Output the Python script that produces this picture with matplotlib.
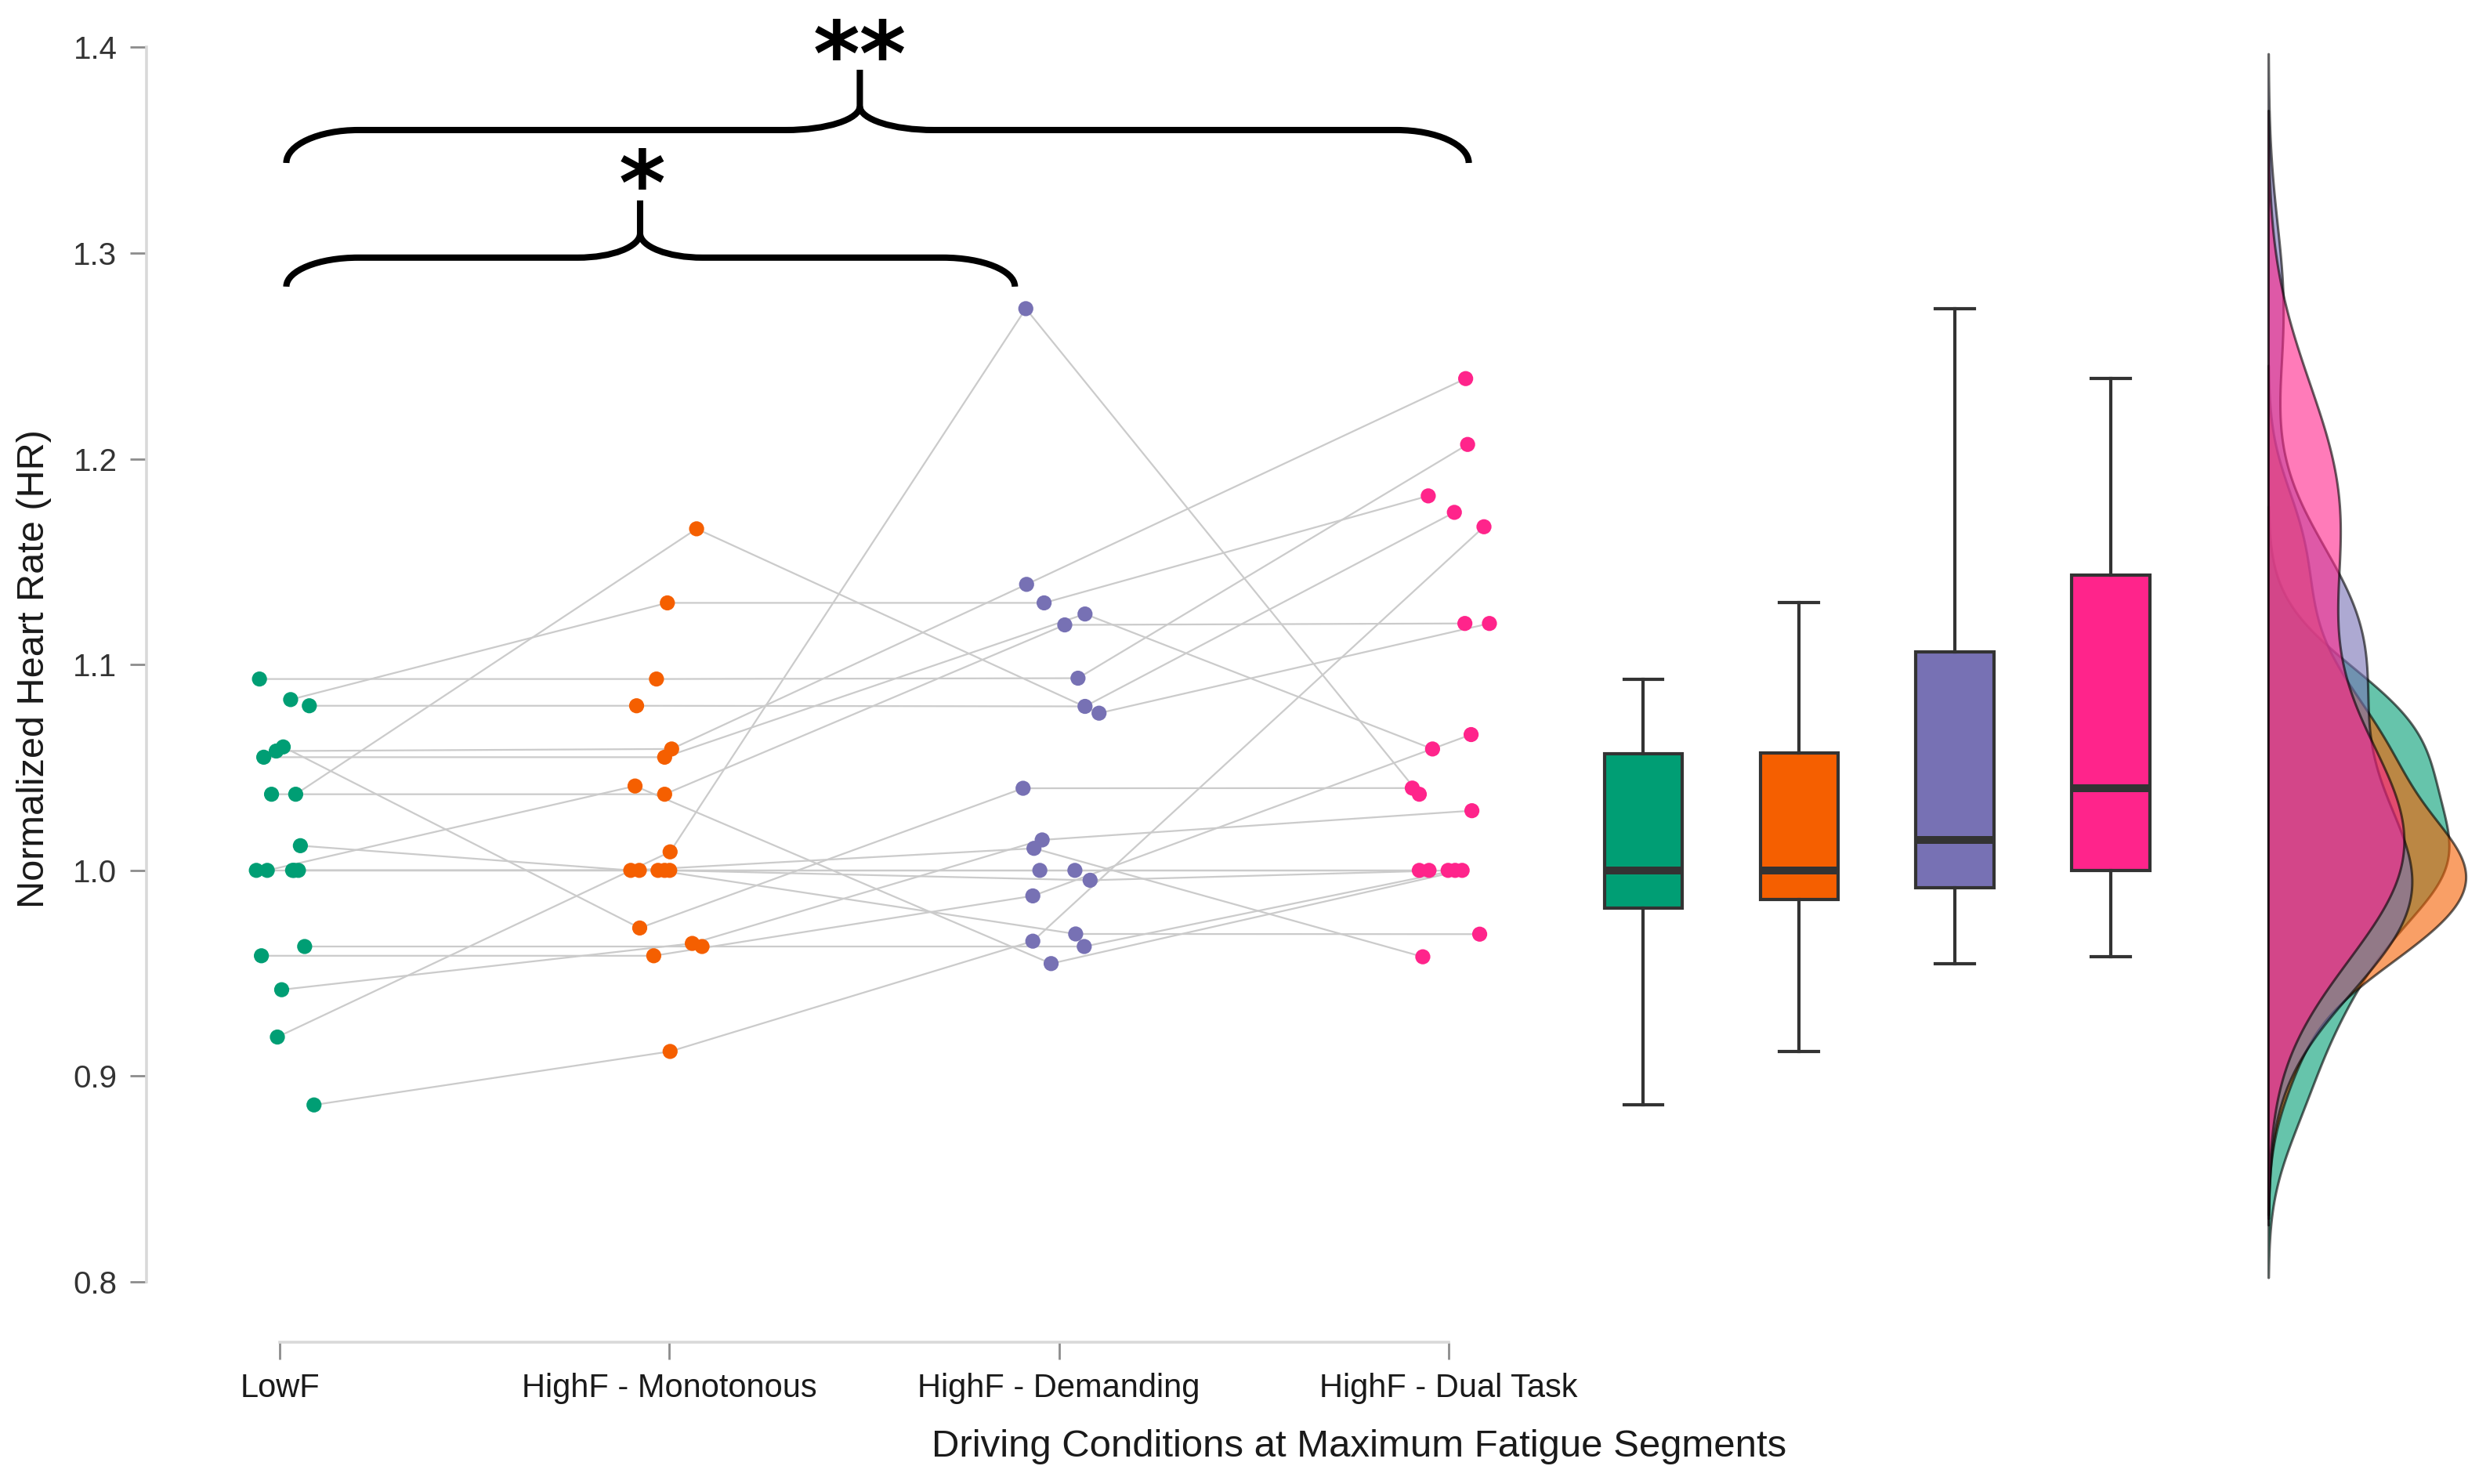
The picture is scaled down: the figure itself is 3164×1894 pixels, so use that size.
import numpy as np
import matplotlib
matplotlib.use("Agg")
import matplotlib.pyplot as plt
from matplotlib.path import Path
from matplotlib.patches import PathPatch
from matplotlib import font_manager

# ---------------- data (one entry per participant, same order in every condition) -------------
conditions = ["LowF", "HighF - Monotonous", "HighF - Demanding", "HighF - Dual Task"]
colors = ["#009E74", "#F55F00", "#7771B4", "#FF248B"]

lowf = [1.093, 1.083, 1.080, 1.060, 1.058, 1.055, 1.037, 1.037, 1.012, 1.000,
        1.000, 1.000, 1.000, 1.000, 0.963, 0.9585, 0.942, 0.919, 0.886]
mono = [1.093, 1.130, 1.080, 0.972, 1.059, 1.055, 1.037, 1.166, 1.000, 1.041,
        1.000, 1.000, 1.000, 1.000, 0.963, 0.9585, 0.9645, 1.009, 0.912]
dem = [1.0934, 1.130, 1.0797, 1.0399, 1.139, 1.1246, 1.1193, 1.0764, 1.0107, 0.9547,
       1.000, 0.9691, 1.000, 0.9952, 0.963, 0.9876, 1.0148, 1.273, 0.9656]
dual = [1.207, 1.182, 1.174, 1.040, 1.239, 1.059, 1.120, 1.120, 0.958, 1.000,
        1.000, 0.969, 1.000, 1.000, 1.000, 1.066, 1.029, 1.037, 1.167]

# horizontal jitter of each point (category units)
jit_lowf = [-0.052, 0.028, 0.076, 0.009, -0.009, -0.041, -0.021, 0.041, 0.053, -0.032,
            -0.060, 0.033, 0.048, 0.037, 0.064, -0.047, 0.005, -0.006, 0.088]
jit_mono = [-0.033, -0.005, -0.084, -0.076, 0.006, -0.012, -0.012, 0.070, -0.099, -0.088,
            -0.077, -0.029, -0.012, 0.001, 0.084, -0.040, 0.059, 0.002, 0.002]
jit_dem = [0.049, -0.038, 0.067, -0.092, -0.083, 0.067, 0.015, 0.103, -0.064, -0.020,
           -0.049, 0.043, 0.041, 0.080, 0.065, -0.067, -0.043, -0.085, -0.067]
jit_dual = [0.049, -0.052, 0.015, -0.093, 0.044, -0.041, 0.042, 0.105, -0.066, 0.035,
            -0.075, 0.080, -0.050, -0.001, 0.017, 0.058, 0.060, -0.075, 0.091]

yticks = [0.8, 0.9, 1.0, 1.1, 1.2, 1.3, 1.4]
ylabel = "Normalized Heart Rate (HR)"
xlabel = "Driving Conditions at Maximum Fatigue Segments"
sig_labels = ["**", "*"]

# ---------------- fonts ----------------
names = {f.name for f in font_manager.fontManager.ttflist}
narrow = "Liberation Sans Narrow" if "Liberation Sans Narrow" in names else "Liberation Sans"
plt.rcParams["font.family"] = ["Liberation Sans", "DejaVu Sans"]

W, H = 3164, 1894
fig = plt.figure(figsize=(W / 200, H / 200), dpi=200)
ax = fig.add_axes([186.7 / W, (H - 1713) / H, 1 - 186.7 / W, 1713 / H])
ax.set_xlim(-0.3425, 5.645)
ax.set_ylim(0.7707, 1.423)

groups = [lowf, mono, dem, dual]
jits = [jit_lowf, jit_mono, jit_dem, jit_dual]

# connecting lines
for i in range(len(lowf)):
    xs = [k + jits[k][i] for k in range(4)]
    ys = [groups[k][i] for k in range(4)]
    ax.plot(xs, ys, color="#CBCBCB", lw=0.8, zorder=1, solid_capstyle="round")

# points
for k in range(4):
    ax.scatter(k + np.array(jits[k]), groups[k],
               s=48, color=colors[k], edgecolors="none", zorder=3)

# boxplots
box_pos = [3.5, 3.9, 4.3, 4.7]
bp = ax.boxplot(groups, positions=box_pos, widths=0.2, patch_artist=True,
                showfliers=False, whis=1.5, capwidths=0.1, manage_ticks=False,
                boxprops=dict(edgecolor="#333333", linewidth=1.5),
                medianprops=dict(color="#333333", linewidth=3.6, solid_capstyle="butt"),
                whiskerprops=dict(color="#333333", linewidth=1.5),
                capprops=dict(color="#333333", linewidth=1.5))
for patch, c in zip(bp["boxes"], colors):
    patch.set_facecolor(c)
for el in bp["boxes"] + bp["medians"] + bp["whiskers"] + bp["caps"]:
    el.set_zorder(4)

# half densities (Gaussian KDE, bw.nrd0, cut = 3)
def nrd0(v):
    v = np.asarray(v)
    sd = v.std(ddof=1)
    iqr = np.subtract(*np.percentile(v, [75, 25]))
    return 0.9 * min(sd, iqr / 1.34) * len(v) ** -0.2

dens = []
for g in groups:
    g = np.asarray(g)
    bw = nrd0(g)
    yy = np.linspace(g.min() - 3 * bw, g.max() + 3 * bw, 512)
    d = np.exp(-0.5 * ((yy[:, None] - g[None, :]) / bw) ** 2).sum(1) / (len(g) * bw * np.sqrt(2 * np.pi))
    dens.append((yy, d))
base = 5.104
scale = 0.507 / max(d.max() for _, d in dens)
for (yy, d), c in zip(dens, colors):
    ax.fill_betweenx(yy, base, base + d * scale, facecolor=c, alpha=0.6,
                     edgecolor="black", linewidth=1.1, zorder=2)

# axes styling
for s in ["top", "right"]:
    ax.spines[s].set_visible(False)
ax.spines["left"].set_bounds(0.8, 1.4)
ax.spines["bottom"].set_bounds(0, 3)
for s in ["left", "bottom"]:
    ax.spines[s].set_color("#D9D9D9")
    ax.spines[s].set_linewidth(1.3)
ax.set_yticks(yticks)
ax.set_yticklabels([f"{t:.1f}" for t in yticks])
ax.set_xticks(range(4))
ax.set_xticklabels(conditions, fontfamily=narrow)
ax.tick_params(axis="y", length=7.4, width=1.0, color="#8C8C8C", pad=6,
               labelsize=14.5, labelcolor="#333333")
ax.tick_params(axis="x", length=8, width=1.0, color="#8C8C8C", pad=6,
               labelsize=15, labelcolor="#1A1A1A")

fig.text(44 / W, 1 - 854 / H, ylabel, rotation=90, ha="center", va="center",
         fontsize=17.5, fontfamily=narrow, color="#1A1A1A")
fig.text(1735 / W, 1 - 1846 / H, xlabel, ha="center", va="center",
         fontsize=17.7, fontfamily=narrow, color="#1A1A1A")

# significance braces
def brace(x0, x1, xc, yb, yf, yc, yt, dx, dc):
    k = 0.552
    left = [(x0, yb), (x0, yb + k * (yf - yb)), (x0 + dx * (1 - k), yf), (x0 + dx, yf),
            (xc - dc, yf), (xc - dc + k * dc, yf), (xc, yc - k * (yc - yf)), (xc, yc),
            (xc, yt)]
    right = [(x1, yb), (x1, yb + k * (yf - yb)), (x1 - dx * (1 - k), yf), (x1 - dx, yf),
             (xc + dc, yf), (xc + dc - k * dc, yf), (xc, yc - k * (yc - yf)), (xc, yc)]
    cl = [Path.MOVETO, Path.CURVE4, Path.CURVE4, Path.CURVE4, Path.LINETO,
          Path.CURVE4, Path.CURVE4, Path.CURVE4, Path.LINETO]
    cr = cl[:-1]
    for verts, codes in [(left, cl), (right, cr)]:
        ax.add_patch(PathPatch(Path(verts, codes), facecolor="none", edgecolor="black",
                               lw=2.9, capstyle="butt", joinstyle="round", clip_on=False, zorder=5))

brace(0.017, 3.052, 1.489, 1.3438, 1.3598, 1.3714, 1.3891, 0.185, 0.19)
brace(0.017, 1.887, 0.925, 1.2837, 1.2978, 1.3096, 1.3256, 0.185, 0.16)
ax.text(1.489, 1.3815, sig_labels[0], ha="center", va="baseline", fontsize=41,
        fontweight="bold", fontfamily="DejaVu Sans", clip_on=False, zorder=6)
ax.text(0.9299, 1.3185, sig_labels[1], ha="center", va="baseline", fontsize=41,
        fontweight="bold", fontfamily="DejaVu Sans", clip_on=False, zorder=6)

fig.savefig("out.png", dpi=200)
